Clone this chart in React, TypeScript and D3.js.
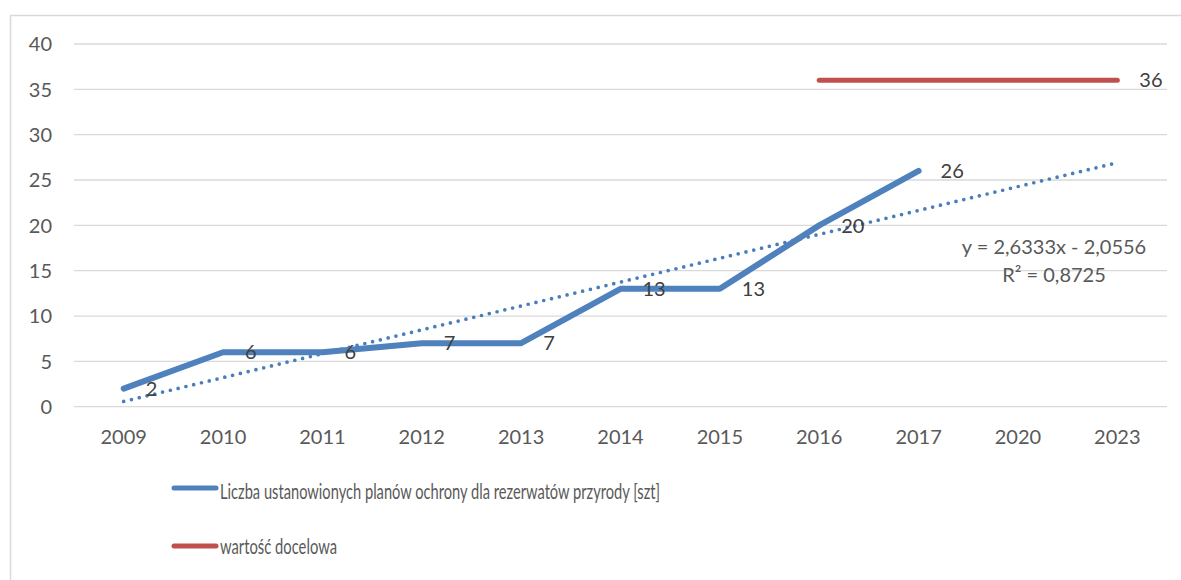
import React from "react";
import * as d3 from "d3";

const categories = ["2009", "2010", "2011", "2012", "2013", "2014", "2015", "2016", "2017", "2020", "2023"];
const seriesValues = [2, 6, 6, 7, 7, 13, 13, 20, 26];
const targetCategories = ["2016", "2017", "2020", "2023"];
const targetValues = [36, 36, 36, 36];
const yTicks = [0, 5, 10, 15, 20, 25, 30, 35, 40];
const trendSlope = 2.6333;
const trendIntercept = -2.0556;
const trendRange = [1, 11];
const seriesName = "Liczba ustanowionych planów ochrony dla rezerwatów przyrody [szt]";
const targetName = "wartość docelowa";
const equationText = "y = 2,6333x - 2,0556";
const r2Text = "R² = 0,8725";

const W = 1181;
const H = 580;
const FONT = "Lato, 'Noto Sans', sans-serif";
const BLUE = "#4f81bd";
const RED = "#c0504d";
const GRID = "#d9d9d9";
const AXIS_TXT = "#595959";
const LABEL_TXT = "#404040";

export default function App() {
  const x = d3.scaleBand<string>().domain(categories).range([74, 1167]).paddingInner(0).paddingOuter(0);
  const cx = (c: string) => (x(c) as number) + x.bandwidth() / 2;
  const y = d3.scaleLinear().domain([0, 40]).range([406.7, 44]);
  const xi = d3
    .scaleLinear()
    .domain([1, categories.length])
    .range([cx(categories[0]), cx(categories[categories.length - 1])]);

  const line = d3
    .line<number>()
    .x((_, i) => cx(categories[i]))
    .y((d) => y(d));

  const targetLine = d3
    .line<number>()
    .x((_, i) => cx(targetCategories[i]))
    .y((d) => y(d));

  const trendPts: [number, number][] = trendRange.map((t) => [xi(t), y(trendSlope * t + trendIntercept)]);
  const trendPath = d3.line()(trendPts) as string;

  const lastT = targetValues.length - 1;

  return (
    <svg
      width={W}
      height={H}
      style={{ position: "absolute", left: 0, top: 0, display: "block", background: "#fff" }}
      fontFamily={FONT}
    >
      <rect x={10.5} y={15.5} width={W + 20} height={H + 20} fill="#fff" stroke={GRID} strokeWidth={1.5} />
      {yTicks.map((t) => (
        <g key={t}>
          <line x1={74} x2={1167} y1={y(t)} y2={y(t)} stroke={GRID} strokeWidth={1.3} />
          <text x={52} y={y(t)} dy="0.36em" textAnchor="end" fontSize={20} fill={AXIS_TXT}>
            {t}
          </text>
        </g>
      ))}
      {categories.map((c) => (
        <text key={c} x={cx(c)} y={437} dy="0.36em" textAnchor="middle" fontSize={20} fill={AXIS_TXT}>
          {c}
        </text>
      ))}
      <path d={trendPath} fill="none" stroke="#4a7ebb" strokeWidth={3.7} strokeDasharray="0 8" strokeLinecap="round" />
      <path d={line(seriesValues) as string} fill="none" stroke={BLUE} strokeWidth={6} strokeLinejoin="round" strokeLinecap="round" />
      <path d={targetLine(targetValues) as string} fill="none" stroke={RED} strokeWidth={5} strokeLinecap="round" />
      {seriesValues.map((v, i) => (
        <text key={i} x={cx(categories[i]) + 22} y={y(v)} dy="0.36em" fontSize={20} fill={LABEL_TXT}>
          {v}
        </text>
      ))}
      <text x={cx(targetCategories[lastT]) + 22} y={y(targetValues[lastT])} dy="0.36em" fontSize={20} fill={LABEL_TXT}>
        {targetValues[lastT]}
      </text>
      <text x={1054} y={247} dy="0.36em" textAnchor="middle" fontSize={20} fill={AXIS_TXT}>
        {equationText}
      </text>
      <text x={1054} y={275} dy="0.36em" textAnchor="middle" fontSize={20} fill={AXIS_TXT}>
        {r2Text}
      </text>
      <line x1={174} x2={216} y1={488} y2={488} stroke={BLUE} strokeWidth={5} strokeLinecap="round" />
      <text x={220} y={499} fontSize={22} fill={AXIS_TXT} textLength={440} lengthAdjust="spacingAndGlyphs">
        {seriesName}
      </text>
      <line x1={174} x2={216} y1={546} y2={546} stroke={RED} strokeWidth={5} strokeLinecap="round" />
      <text x={220} y={554} fontSize={22} fill={AXIS_TXT} textLength={117} lengthAdjust="spacingAndGlyphs">
        {targetName}
      </text>
    </svg>
  );
}
